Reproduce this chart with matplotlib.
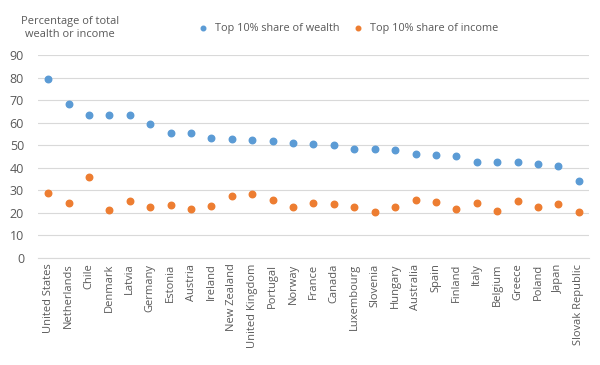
import numpy as np
import matplotlib
matplotlib.use('Agg')
from matplotlib import pyplot as plt

plt.rcParams['font.family'] = ['Open Sans', 'DejaVu Sans']

# 数据
countries = ['United States', 'Netherlands', 'Chile', 'Denmark', 'Latvia', 'Germany',
             'Estonia', 'Austria', 'Ireland', 'New Zealand', 'United Kingdom', 'Portugal',
             'Norway', 'France', 'Canada', 'Luxembourg', 'Slovenia', 'Hungary', 'Australia',
             'Spain', 'Finland', 'Italy', 'Belgium', 'Greece', 'Poland', 'Japan',
             'Slovak Republic']
wealth = [79.2, 68.1, 63.6, 63.6, 63.3, 59.4, 55.3, 55.3, 53.4, 52.7, 52.2, 51.9,
          51.2, 50.4, 50.0, 48.5, 48.5, 48.1, 46.3, 45.6, 45.1, 42.5, 42.5, 42.5,
          41.7, 41.0, 34.2]
income = [28.8, 24.6, 36.0, 21.2, 25.4, 22.7, 23.5, 21.7, 23.2, 27.3, 28.3, 25.8,
          22.4, 24.3, 23.9, 22.4, 20.2, 22.4, 25.8, 24.9, 21.7, 24.3, 20.9, 25.1,
          22.4, 23.9, 20.2]
yticks = list(range(0, 100, 10))

txt = '#595959'
fig = plt.figure(figsize=(6, 3.65), dpi=100)
ax = fig.add_axes([38 / 600, 1 - 258 / 365, 551 / 600, 203 / 365])

x = np.arange(len(countries))
ax.scatter(x, wealth, s=22, color='#5B9BD5', zorder=3, label='Top 10% share of wealth')
ax.scatter(x, income, s=22, color='#ED7D31', zorder=3, label='Top 10% share of income')

ax.set_xlim(-0.5, len(countries) - 0.5)
ax.set_ylim(0, 90)
ax.set_yticks(yticks)
ax.set_xticks(x)
ax.set_xticklabels(countries, rotation=90, fontsize=8, color=txt)
ax.tick_params(axis='y', labelsize=9, colors=txt, length=0, pad=10)
ax.tick_params(axis='x', length=0, pad=4)
ax.grid(axis='y', color='#D9D9D9', linewidth=0.8)
ax.set_axisbelow(True)
for s in ['top', 'right', 'left']:
    ax.spines[s].set_visible(False)
ax.spines['bottom'].set_color('#D9D9D9')
ax.spines['bottom'].set_linewidth(0.8)

fig.text(70 / 600, 1 - 28 / 365, 'Percentage of total\nwealth or income', ha='center',
         va='center', fontsize=7.9, color=txt, linespacing=1.35)
ax.legend(loc='center left', bbox_to_anchor=(188 / 600, 1 - 28 / 365),
          bbox_transform=fig.transFigure, ncol=2, frameon=False, fontsize=7.8,
          labelcolor=txt, markerscale=0.7, handletextpad=0.1, columnspacing=0.7,
          borderaxespad=0)

fig.savefig('out.png', dpi=100)
